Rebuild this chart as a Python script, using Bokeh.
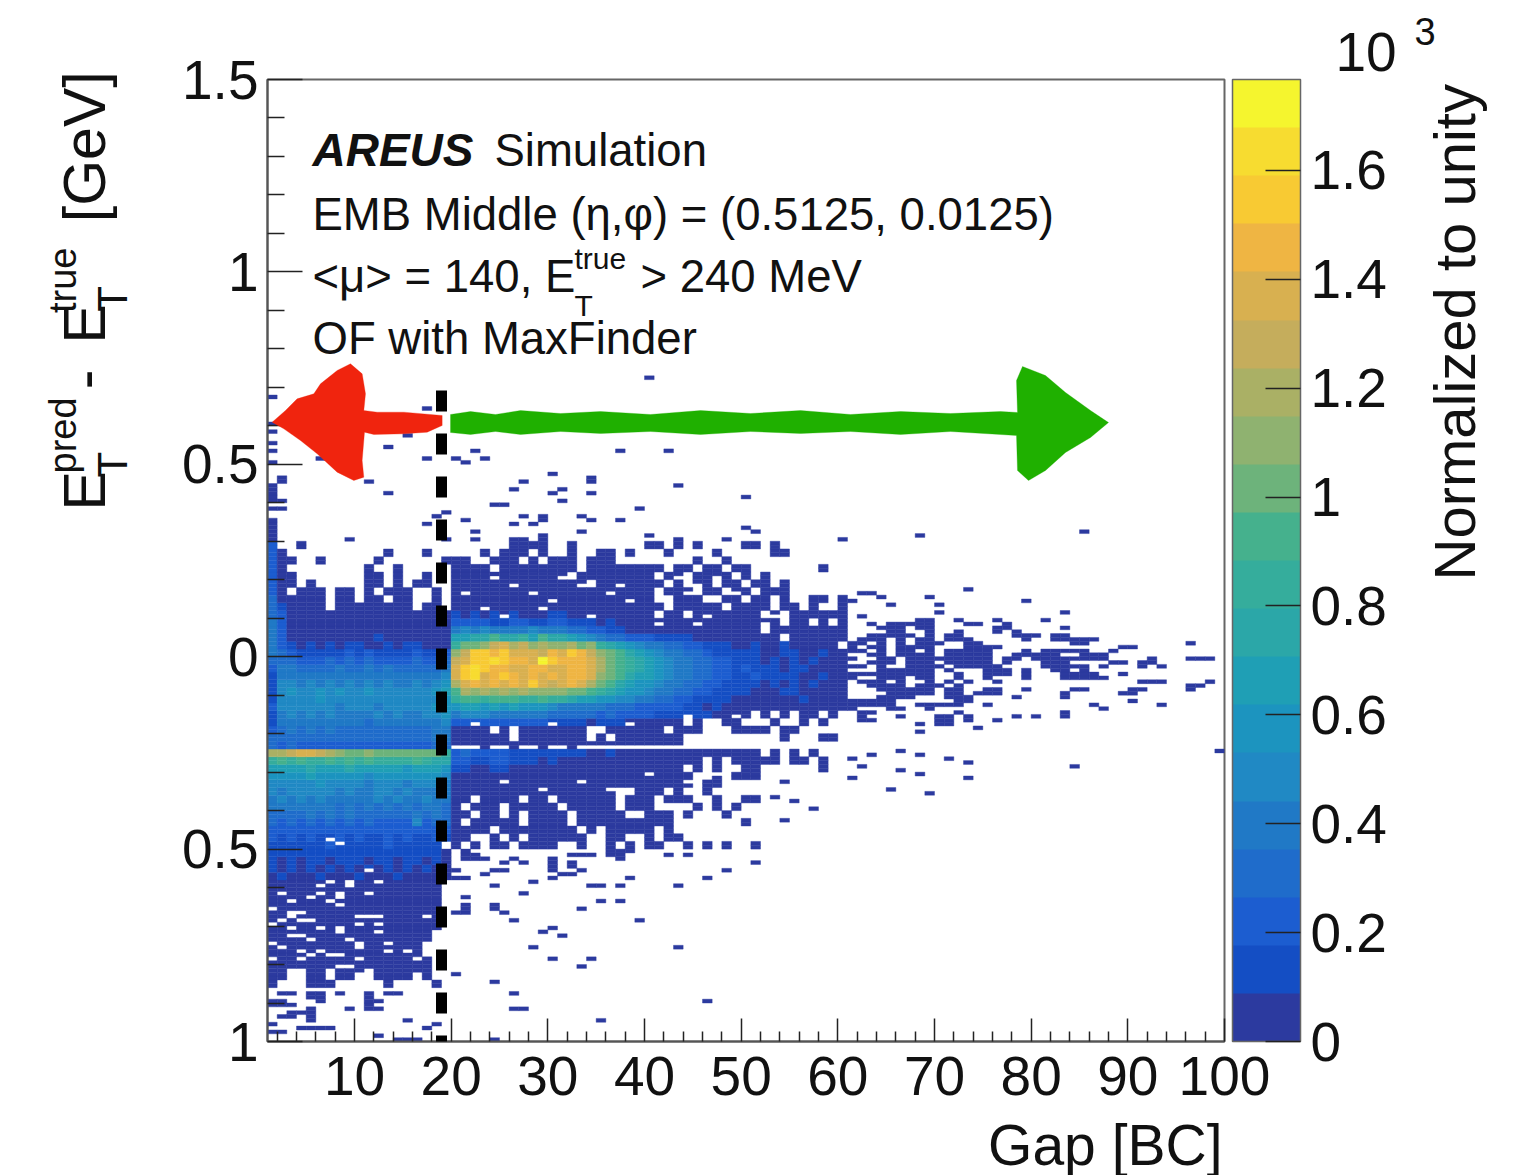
from bokeh.plotting import figure
from bokeh.models import (ColumnDataSource, LinearColorMapper, ColorBar, FixedTicker, Label,
                          Arrow, PolyAnnotation)
from bokeh.embed import file_html
from bokeh.resources import INLINE

FONT = "Liberation Sans"
X_TICKS = [10, 20, 30, 40, 50, 60, 70, 80, 90, 100]
X_MINOR = [2, 4, 6, 8, 12, 14, 16, 18, 22, 24, 26, 28, 32, 34, 36, 38, 42, 44, 46, 48, 52, 54, 56, 58,
           62, 64, 66, 68, 72, 74, 76, 78, 82, 84, 86, 88, 92, 94, 96, 98]
Y_TICKS = [-1, -0.5, 0, 0.5, 1, 1.5]
Y_TICK_LABELS = ["1", "0.5", "0", "0.5", "1", "1.5"]
Y_MINOR = [-0.9, -0.8, -0.7, -0.6, -0.4, -0.3, -0.2, -0.1, 0.1, 0.2, 0.3, 0.4, 0.6, 0.7, 0.8, 0.9,
           1.1, 1.2, 1.3, 1.4]
Z_TICKS = [0, 200, 400, 600, 800, 1000, 1200, 1400, 1600]
Z_TICK_LABELS = ["0", "0.2", "0.4", "0.6", "0.8", "1", "1.2", "1.4", "1.6"]
Z_MAX = 1767
PALETTE = ["#2c3a9f", "#144ec4", "#1c5dd0", "#1f6ccb", "#2079c6", "#2089c4", "#1c94bf", "#1f9fb5",
           "#2ba7a8", "#35ad9c", "#45b18d", "#6db37b", "#8fb270", "#aab065", "#c5ad5c", "#d8b050",
           "#efb543", "#f8ca33", "#f7dc30", "#f5f52e"]

# Gap bins 1..19, rows 0.02 high, first row centred at y=0.29; characters are colour levels
LEFT_ROWS = [
    "2..0...............", "20..........0...0..", "200..0.....0......0", "20........0..0.....",
    "200.......00.0..0..", "200.0.....00.0.00..", "20.000.00.0.000..0.", "300000.00.00.00..0.",
    "310000.00000000.00.", "3200000000000000000", "4200000000000000000", "4200000000000000000",
    "4200000000010000000", "4210101011001011000", "4321111121211112112", "3332223232322223223",
    "2443333433434333334", "1444444444444444445", "1554545454545445456", "1565565655655555567",
    "1555565555555555556", "2555555455545555566", "1454545444454544556", "1444444444344444445",
    "2343434333333333344", "3333333333333333344", "3232222222222222233", "ddeffedcbbcbbbbbbb9",
    "9a9a99a9a9a9999a988", "7777877787777767776", "6666766666566666665", "5555565555455545554",
    "5455555454455454444", "4545454444454544544", "4444444343434343443", "3333434343333334343",
    "3232323232322225233", "2222222222222222222", "2121211212112121121", "111111211111211111.",
    "1111111111111111110", "1010110111011011010", "1010101010101010100", "0100010001000100000",
    "000000000000000000.", "000000000000000000.", "000000000000000000.", "000000000000000000.",
    "000000000000000000.", "000000000000000000.", "00000000000000000..", "00000000000000000..",
    "0000000000000000...", "0000000000000000...", "00000000000000000..", "00000000000000000..",
    "00..00.00..0000.0..", "0...000.....0....0.",
]

# Gap bins 20..60, same rows (spaces only group the columns)
RIGHT_ROWS = [
    "......0000 ..0....... 00.0.0.... 00.0...... .",
    "...0.000.0 ..0..00.0. ..0....0.. ...00..... .",
    "00..000.0. 000.000... .....0..0. .......... .",
    "0000.00000 000.000000 00.00.00.0 0.......0. .",
    "0000000000 00.0000000 0.00.0000. 0.0....... .",
    "0000000000 0000.00000 00.0.00.00 .00.0..... .",
    "0000000000 0000000000 0.000.00.0 0.000..... .",
    "0000000000 0000000000 0..000..00 .00.0..00. 0",
    "0000000000 0000000000 00.00000.0 000.00.0.. 0",
    "1010101000 1100000000 0.00.00000 00.0.00000 0",
    "2222112211 2211101000 0000000000 0000.00.0. 0",
    "4545444454 4433221100 0000000000 00.0000000 0",
    "7788a8897a 8876543322 2111100000 0000.00000 0",
    "9bbcefdecd ccdbc98765 4433221110 0100100000 .",
    "cehhghfffe gfhgecba87 6544332111 1100110010 0",
    "efhhihggfj hgggfdba98 7654433221 1101010100 0",
    "fhihggffgg ffggfdba98 7654433221 2111011000 0",
    "fhifghgfgf gfggfcba87 7654433221 1211110010 0",
    "dfgfgfgfhf efgfdba876 6544332211 1101010100 0",
    "adcdcdcdcc ccbba98766 5443322111 1000110000 0",
    "9aa9aaa99a 9987766554 4332211110 0000001000 0",
    "6776767666 5444443332 2222110100 0000000000 0",
    "4555444444 3333323222 2111111000 0.0.0.00.0 .",
    "2222222222 1111011100 0000.0..00 ...0..0.0. .",
    "0000.0.000 0000..0000 00.000...0 000.00.... .",
    "000000.000 0000.0.000 0000...... ....0...00 .",
    "0000000000 0000000000 0000...... .......... .",
    "2322221111 1111001000 0000000000 00.0.0.0.. .",
    "2211221110 1000000000 000000.0.0 0000.00.0. .",
    "1100110000 0000000000 0000.0.0.. 00......0. .",
    "0000000000 0000000000 00000..0.0 00........ .",
    "0000000000 0000000000 00000.00.. .......... .",
    "0000000000 0000000..0 00.0..0... .......... .",
    "00.0000.00 .000000.00 0.000..0.. 00........ .",
    "0.000.0000 0.00000.00 0....0.0.0 .......... .",
    "00.00.0.00 00.00000.. 000.0...0. .......... .",
    "0.00000.00 00.0000000 000....... 0......... .",
    "0000.00000 000.0.0000 0.0....... .......... .",
    "00..0.0.00 0000..00.. 0.00...... .......... .",
    "0.0.00.000 0..0..0.0. 00..0.0.0. .0........ .",
]

# Gap bins emptied from the thin white stripe just above the bright band
STRIPE_EMPTY_Y = -0.235
STRIPE_EMPTY_COLS = [20, 21, 22, 24, 25, 27, 28, 30, 31, 33, 34, 35, 36, 37, 38, 39, 40, 41, 42, 43]

# Empty bins inside the filled blocks: (y, [gap bins])
EMPTY_BINS = [
    (-0.476, [7]), (-0.486, [8]), (-0.556, [11]), (-0.586, [7, 9, 12]), (-0.596, [6, 9]), (-0.616, [2, 6, 11]),
    (-0.626, [5, 8]), (-0.616, [8]), (-0.636, [3, 7]), (-0.646, [8]), (-0.656, [1]), (-0.666, [3, 4]),
    (-0.677, [3, 10, 11, 12, 17]), (-0.681, [5]), (-0.69, [2, 4]), (-0.696, [1, 10, 12]), (-0.706, [3, 6, 8]),
    (-0.716, [8, 12]), (-0.726, [3, 4]), (-0.736, [5, 9]), (-0.746, [1, 10, 13]), (-0.756, [2, 10]),
    (-0.767, [4, 6, 13, 15]), (-0.776, [5, 7, 8]), (-0.786, [1, 4, 10, 16]), (-0.80, [8, 9]),
    (-0.82, [11, 3, 4, 7]),
    (0.205, [24, 31, 43, 47]), (0.185, [26, 33, 37, 45]), (0.165, [21, 28, 36, 44, 49]), (0.125, [23, 29, 42, 48]),
    (0.105, [25, 34, 46, 53]), (0.085, [41, 45, 52]), (0.145, [30, 38]), (-0.155, [44, 49, 53]),
    (-0.175, [22, 30, 38]), (-0.305, [40, 47, 52]), (-0.325, [25, 33, 44]), (-0.345, [29, 36]),
]

# Isolated single-count bins: (y, [gap bins])
SPARSE_BINS = [
    (0.724, [40]), (0.674, [1]), (0.644, [17]), (0.60, [1]), (0.588, [1]), (0.575, [15]), (0.559, [1]),
    (0.55, [1]), (0.545, [13]), (0.534, [1, 22, 37, 42]), (0.514, [6, 17, 20, 23]), (0.504, [1, 21]),
    (0.473, [30]), (0.46, [2, 34]), (0.454, [2, 11, 27]), (0.45, [34]), (0.444, [1, 43]), (0.434, [1, 26, 31]),
    (0.423, [1, 13, 30, 34]), (0.414, [1, 50]), (0.404, [1, 2, 31]), (0.393, [24, 25]), (0.384, [1, 2, 39]),
    (0.373, [19]), (0.364, [18, 27, 29, 33]), (0.354, [1, 21, 29, 34, 37]), (0.345, [1]), (0.343, [17, 26, 28]),
    (0.334, [1, 50]), (0.324, [1, 22, 33, 51, 85]), (0.315, [1, 29, 40, 68]), (0.305, [1, 9, 19, 22, 26, 27, 29, 43, 48, 60]),
    (0.174, [73]), (0.164, [62, 63]), (0.154, [64, 69]), (0.145, [61, 79]), (0.134, [65, 70]), (0.114, [70, 83]),
    (0.104, [62]), (0.094, [68, 69, 72, 76, 81]), (0.084, [63, 65, 66, 67, 68, 69, 73, 74, 77]),
    (0.074, [64, 65, 66, 68, 69, 76, 77, 83]), (0.064, [65, 66, 69, 72, 76, 78]),
    (0.054, [63, 64, 65, 66, 67, 69, 71, 72, 78, 79, 80, 82, 83]),
    (0.044, [62, 63, 64, 66, 68, 69, 71, 72, 73, 79, 82, 83, 84, 85, 86]),
    (0.034, [61, 62, 64, 66, 68, 69, 70, 73, 74, 84, 85, 96]),
    (0.024, [61, 63, 64, 66, 67, 68, 69, 73, 74, 75, 76, 89, 90]),
    (0.014, [61, 62, 64, 66, 67, 69, 71, 72, 73, 74, 75, 79, 81, 82, 83, 84, 85, 88]),
    (0.004, [63, 64, 66, 67, 68, 69, 71, 72, 73, 74, 75, 78, 79, 80, 81, 82, 85, 86, 87]),
    (-0.006, [61, 64, 65, 67, 68, 69, 70, 71, 72, 73, 74, 75, 77, 78, 80, 81, 82, 83, 84, 85, 86, 87, 92, 96, 97, 98]),
    (-0.016, [63, 64, 65, 67, 68, 69, 71, 72, 73, 74, 75, 77, 81, 82, 83, 88, 89, 91, 92]),
    (-0.026, [61, 62, 64, 67, 68, 69, 70, 72, 73, 74, 75, 76, 81, 82, 83, 84, 85, 87, 91, 93]),
    (-0.036, [64, 65, 66, 67, 68, 69, 71, 75, 76, 77, 79, 82, 83, 85]),
    (-0.046, [61, 62, 63, 64, 65, 66, 67, 68, 69, 72, 75, 76, 77, 79, 83, 84, 85, 86, 89]),
    (-0.056, [61, 64, 65, 66, 68, 69, 72, 75, 79, 83, 84, 85, 86, 87]),
    (-0.066, [62, 63, 64, 66, 69, 71, 73, 76, 91, 92, 93, 98]),
    (-0.076, [63, 64, 65, 66, 68, 69, 70, 72, 96, 97]),
    (-0.086, [64, 65, 66, 67, 68, 69, 71, 72, 75, 76, 79, 84, 85, 90, 91, 96]),
    (-0.096, [65, 66, 67, 68, 69, 71, 72, 74, 75, 76, 83, 89, 90]),
    (-0.106, [64, 65, 66, 67, 71, 72, 73, 78, 83]),
    (-0.116, [61, 62, 63, 64, 65, 72, 73, 90]),
    (-0.126, [61, 62, 63, 64, 65, 68, 69, 70, 71, 72, 75, 86, 93]),
    (-0.136, [61, 65, 66, 69, 87]), (-0.146, [62, 63, 72, 83]), (-0.156, [62, 66, 70, 71, 73, 78, 80, 83]),
    (-0.166, [62, 63, 70, 71, 73, 76]), (-0.176, [68, 70, 71]), (-0.186, [74]), (-0.196, [68]),
    (-0.246, [66, 99]), (-0.256, [63, 68]), (-0.266, [61, 71]), (-0.276, [73]), (-0.286, [62, 84]),
    (-0.295, [66]), (-0.306, [68]), (-0.315, [61, 73]), (-0.346, [65]), (-0.356, [69]),
    (-0.326, [54]), (-0.366, [53]), (-0.376, [51, 55]), (-0.396, [57]), (-0.426, [54]), (-0.486, [51]),
    (-0.506, [19, 21, 36, 37, 38]), (-0.517, [21, 22, 32, 33, 34, 36, 37, 42, 44]),
    (-0.527, [21, 22, 23, 26, 30, 37]), (-0.537, [25, 27, 30, 32, 51]), (-0.547, [30, 32]),
    (-0.556, [20, 24, 25, 30, 33, 48]), (-0.567, [23, 31, 32]), (-0.576, [20, 21, 30, 38, 46]),
    (-0.587, [28]), (-0.596, [24, 34, 35, 37, 43]), (-0.616, [27]), (-0.627, [21]), (-0.636, [35, 37]),
    (-0.646, [21, 24]), (-0.657, [21, 24, 33]), (-0.665, [20, 21, 25]), (-0.685, [26, 39]), (-0.706, [18, 30]),
    (-0.716, [29]), (-0.725, [31]), (-0.756, [28, 43]), (-0.786, [30, 34]), (-0.807, [33]), (-0.826, [20]),
    (-0.846, [24]), (-0.876, [2, 3, 5, 6, 8, 11, 13, 14, 26]), (-0.886, [5, 6, 11]), (-0.896, [1, 2, 6, 11, 12, 46]),
    (-0.906, [1, 2, 3, 11]), (-0.917, [5, 9, 11, 12, 26, 27]), (-0.926, [3, 4, 5]), (-0.936, [2, 3, 5]),
    (-0.947, [5, 15, 35]), (-0.956, [1, 18]), (-0.967, [4, 5, 6, 7, 17]), (-0.977, [1, 2]), (-0.987, [12]),
    (-0.995, [14, 15, 16, 24]),
]

GREEN_PX = [450, 470, 495, 520, 560, 600, 650, 700, 750, 800, 850, 900, 950, 1000, 1017, 1016, 1022, 1045, 1065, 1090, 1108, 1090,
            1065, 1045, 1028, 1017, 1016, 1000, 950, 900, 850, 800, 750, 700, 650, 600, 560, 520, 495, 470, 450]
GREEN_PY = [414, 411, 414, 410, 413, 411, 414, 410, 413, 410, 414, 411, 413, 411, 412, 380, 366, 375, 392, 410, 422, 437,
            452, 470, 480, 470, 435, 434, 431, 434, 431, 433, 431, 434, 431, 433, 431, 434, 431, 434, 432]
RED_ZX = [35, 75, 110, 160, 180, 230, 270, 305, 315, 310, 350, 430, 545, 545, 500, 430, 340, 312, 305, 310, 280,
          230, 170, 120, 70]
RED_ZY = [185, 150, 115, 100, 70, 30, 10, 40, 100, 150, 155, 155, 165, 195, 215, 220, 222, 215, 300, 350, 360,
          335, 280, 240, 205]

LEVEL_WIDTH = Z_MAX / 20
LEVEL_CHARS = "0123456789abcdefghij"


def gx(px):
    return 1 + (px - 267) * 99 / 957


def gy(py):
    return 1.5 - (py - 79) * 2.5 / 962


def bin_of(y):
    return int((y + 1) * 100 // 1)


bins = {}
for r, row in enumerate(LEFT_ROWS):
    yc = 0.29 - 0.02 * r
    for i, ch in enumerate(row):
        if ch != ".":
            k = int(round((yc + 1) * 100))
            bins[(1 + i, k)] = LEVEL_CHARS.index(ch)
            bins[(1 + i, k - 1)] = LEVEL_CHARS.index(ch)
for r, row in enumerate(RIGHT_ROWS):
    yc = 0.29 - 0.02 * r
    for i, ch in enumerate(row.replace(" ", "")):
        if ch != ".":
            k = int(round((yc + 1) * 100))
            bins[(20 + i, k)] = LEVEL_CHARS.index(ch)
            bins[(20 + i, k - 1)] = LEVEL_CHARS.index(ch)
for y, cols in SPARSE_BINS:
    for c in cols:
        bins.setdefault((c, bin_of(y)), 0)
for y, cols in EMPTY_BINS:
    for c in cols:
        bins.pop((c, bin_of(y)), None)
for c in STRIPE_EMPTY_COLS:
    bins.pop((c, bin_of(STRIPE_EMPTY_Y)), None)

keys = sorted(bins)
src = ColumnDataSource(dict(
    left=[c for c, k in keys],
    right=[c + 1 for c, k in keys],
    bottom=[-1 + k * 0.01 for c, k in keys],
    top=[-1 + (k + 1) * 0.01 for c, k in keys],
    z=[(bins[key] + 0.5) * LEVEL_WIDTH for key in keys],
))

mapper = LinearColorMapper(palette=PALETTE, low=0, high=Z_MAX)

p = figure(frame_width=957, frame_height=962, x_range=(1, 100), y_range=(-1, 1.5),
           output_backend="svg", toolbar_location=None,
           min_border_left=267, min_border_top=79, min_border_bottom=134, min_border_right=303,
           background_fill_color="white", border_fill_color="white")
p.grid.visible = False
p.outline_line_color = "#666666"
p.outline_line_width = 2

cell_color = {"field": "z", "transform": mapper}
p.quad(left="left", right="right", bottom="bottom", top="top", source=src,
       fill_color=cell_color, line_color=cell_color, line_width=0.4)

p.xaxis.ticker = FixedTicker(ticks=X_TICKS, minor_ticks=X_MINOR)
p.yaxis.ticker = FixedTicker(ticks=Y_TICKS, minor_ticks=Y_MINOR)
p.yaxis.major_label_overrides = dict(zip(Y_TICKS, Y_TICK_LABELS))
for ax, maj, mnr in ((p.xaxis, 23, 10), (p.yaxis, 35, 17)):
    ax.axis_line_color = "#555555"
    ax.axis_line_width = 2
    ax.major_tick_in = maj
    ax.major_tick_out = 0
    ax.minor_tick_in = mnr
    ax.minor_tick_out = 0
    ax.major_tick_line_color = "#222222"
    ax.minor_tick_line_color = "#222222"
    ax.major_tick_line_width = 1.5
    ax.minor_tick_line_width = 1.5
    ax.major_label_text_font = FONT
    ax.major_label_text_font_size = "55px"
    ax.major_label_text_color = "#111111"
p.yaxis.major_label_standoff = 9
p.xaxis.major_label_standoff = 15

cb = ColorBar(color_mapper=mapper, ticker=FixedTicker(ticks=Z_TICKS),
              major_label_overrides=dict(zip(Z_TICKS, Z_TICK_LABELS)),
              width=68, height=962, padding=0, location=(8, 0), label_standoff=10,
              major_tick_in=35, major_tick_out=0, major_tick_line_color="#222222", major_tick_line_width=1.5,
              minor_tick_line_color=None, bar_line_color="#666666", bar_line_width=1.5,
              major_label_text_font=FONT, major_label_text_font_size="55px", major_label_text_color="#111111")
p.add_layout(cb, "right")

# hand-drawn overlay
p.add_layout(PolyAnnotation(xs=[gx(x) for x in GREEN_PX], ys=[gy(y) for y in GREEN_PY],
                            fill_color="#1fb000", fill_alpha=1, line_color="#1fb000", line_width=1))
p.add_layout(PolyAnnotation(xs=[gx(260 + x / 3) for x in RED_ZX], ys=[gy(360 + y / 3) for y in RED_ZY],
                            fill_color="#f0240e", fill_alpha=1, line_color="#f0240e", line_width=1))
p.add_layout(Arrow(end=None, x_start=gx(441), x_end=gx(441), y_start=gy(390), y_end=gy(1050),
                   line_color="black", line_width=11, line_dash="21 22", level="overlay"), "below")

ANCHOR_SHIFT = 0.35
NB = "\u00a0"


def text(s, px, py, size, angle=0, align="left", style="normal", side="center"):
    if angle:
        px = px - ANCHOR_SHIFT * size
    else:
        py = py - ANCHOR_SHIFT * size
    label = Label(x=gx(px), y=gy(py), text=s, text_font=FONT, text_font_size=f"{size}px",
                  text_color="#111111", angle=angle, text_align=align, text_baseline="alphabetic",
                  text_font_style=style, level="overlay")
    p.add_layout(label, side)


text("AREUS", 312, 166, 46, style="bold italic")
text("Simulation", 494, 166, 45.5)
text("EMB Middle (η,φ) = (0.5125, 0.0125)", 312, 230, 45.5)
text("<μ> = 140, E", 312, 292, 45.5)
text("true", 574, 268, 30)
text("T", 574, 315, 30)
text("> 240 MeV", 640, 292, 45.5)
text("OF with MaxFinder", 312, 354, 45.5)

text("Gap [BC]", 1222, 1164, 57, align="right", side="below")
text("Normalized to unity", 1474, 580, 58, angle=1.5708, side="right")
text("10", 1335, 71, 55, side="above")
text("3", 1414, 44, 38, side="above")

text("E" + NB * 5 + "-", 105, 510, 59, angle=1.5708, side="left")
text("E" + NB * 5 + "[GeV]", 105, 343, 59, angle=1.5708, side="left")
text("T" + NB * 12 + "T", 127, 477, 42, angle=1.5708, side="left")
text("pred" + NB * 8 + "true", 76, 473, 38, angle=1.5708, side="right")

open("out.html", "w").write(file_html(p, INLINE))
